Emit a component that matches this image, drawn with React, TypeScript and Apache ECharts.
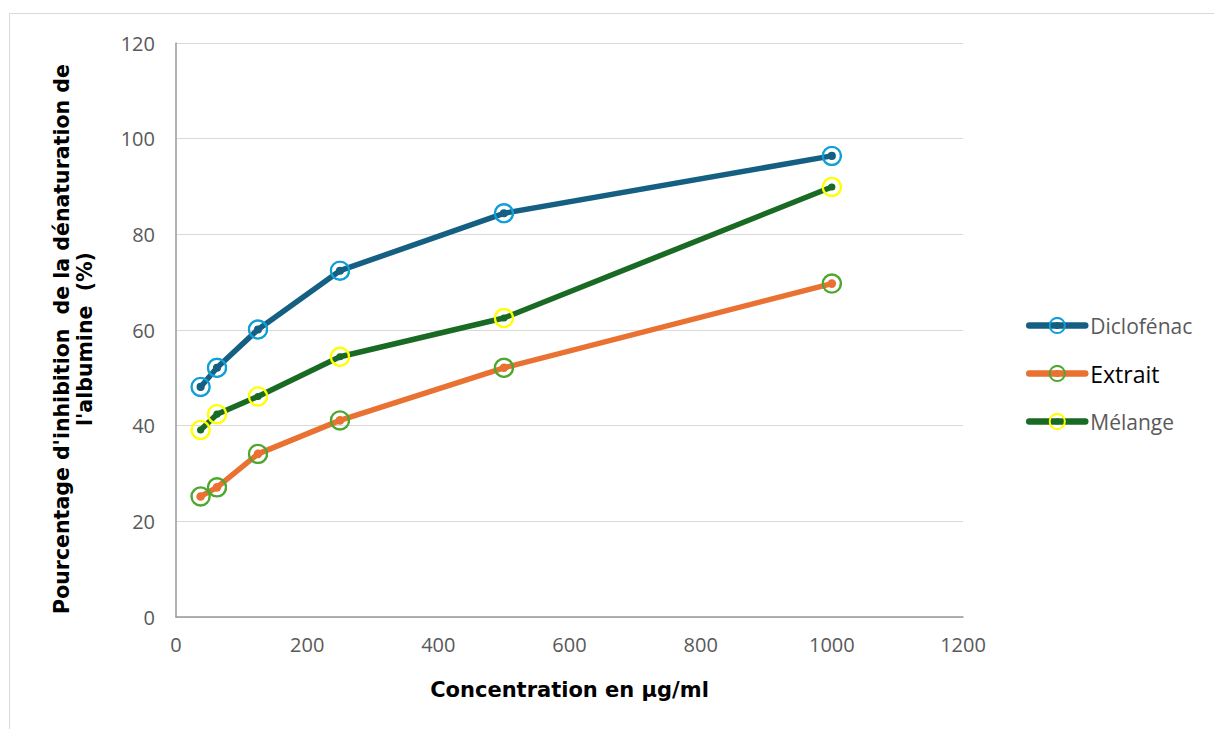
import React, { useEffect, useRef } from "react";
import * as echarts from "echarts";

const concentrations = [37.5, 62.5, 125, 250, 500, 1000];
const diclofenac = [48.1, 52.1, 60.1, 72.4, 84.4, 96.4];
const extrait = [25.2, 27.1, 34.1, 41.1, 52.1, 69.7];
const melange = [39.1, 42.4, 46.1, 54.4, 62.5, 89.9];

const seriesNames = ["Diclofénac", "Extrait", "Mélange"];
const lineColors = ["#156082", "#E97132", "#196B24"];
const ringColors = ["#0F9ED5", "#4EA72E", "#FFFF00"];
const dotRadii = [8.5, 9, 7.5];

const yTitle = "Pourcentage d'inhibition  de la dénaturation de\nl'albumine  (%)";
const xTitle = "Concentration en µg/ml";

function markerUri(ring: string, dot: string, r: number): string {
  const svg = `<svg xmlns="http://www.w3.org/2000/svg" width="44" height="44" viewBox="0 0 44 44"><circle cx="22" cy="22" r="19" fill="none" stroke="${ring}" stroke-width="5"/><circle cx="22" cy="22" r="${r}" fill="${dot}"/></svg>`;
  return "image://data:image/svg+xml;charset=utf-8," + encodeURIComponent(svg);
}

export default function App() {
  const ref = useRef<HTMLDivElement>(null);
  useEffect(() => {
    if (!ref.current) return;
    const chart = echarts.init(ref.current, null, { renderer: "svg" });
    const datasets = [diclofenac, extrait, melange];
    const font = "'Open Sans', 'Liberation Sans', Arial, sans-serif";
    const titleFont = "'DejaVu Sans', 'Liberation Sans', Arial, sans-serif";
    chart.setOption({
      animation: false,
      backgroundColor: "#ffffff",
      graphic: [
        {
          type: "rect",
          shape: { x: 9.5, y: 13.5, width: 1230, height: 740 },
          style: { fill: "none", stroke: "#d9d9d9", lineWidth: 1 },
          silent: true,
        },
      ],
      grid: { left: 176, right: 251, top: 43, bottom: 112, containLabel: false },
      xAxis: {
        type: "value",
        min: 0,
        max: 1200,
        interval: 200,
        name: xTitle,
        nameLocation: "middle",
        nameGap: 62,
        nameTextStyle: { fontFamily: titleFont, fontWeight: "bold", fontSize: 21, color: "#000" },
        axisLine: { show: true, lineStyle: { color: "#999999", width: 1.5 } },
        axisTick: { show: false },
        splitLine: { show: false },
        axisLabel: {
          fontFamily: font,
          fontSize: 20,
          color: "#595959",
          margin: 17,
          formatter: (v: number) => String(v),
        },
      },
      yAxis: {
        type: "value",
        min: 0,
        max: 120,
        interval: 20,
        name: yTitle,
        nameLocation: "middle",
        nameGap: 80,
        nameTextStyle: {
          fontFamily: titleFont,
          fontWeight: "bold",
          fontSize: 20.5,
          color: "#000",
          lineHeight: 23,
          align: "center",
          padding: [0, 18, 0, 0],
        },
        axisLine: { show: true, lineStyle: { color: "#999999", width: 1.5 } },
        axisTick: { show: false },
        splitLine: { show: true, lineStyle: { color: "#d9d9d9", width: 1 } },
        axisLabel: {
          fontFamily: font,
          fontSize: 20,
          color: "#595959",
          margin: 21,
          formatter: (v: number) => String(v),
        },
      },
      legend: {
        orient: "vertical",
        left: 1021,
        top: 310,
        itemWidth: 56,
        itemHeight: 22,
        itemGap: 26,
        data: seriesNames,
        lineStyle: { width: 6.5, cap: "round" },
        formatter: (name: string) => (name === "Extrait" ? `{b|${name}}` : `{a|${name}}`),
        textStyle: {
          fontFamily: font,
          rich: {
            a: { fontFamily: font, fontSize: 21, color: "#595959", lineHeight: 22 },
            b: { fontFamily: font, fontSize: 23, color: "#000000", lineHeight: 22 },
          },
        },
      },
      series: seriesNames.map((name, i) => ({
        name,
        type: "line",
        data: concentrations.map((x, j) => [x, datasets[i][j]]),
        symbol: markerUri(ringColors[i], lineColors[i], dotRadii[i]),
        symbolSize: 21,
        showSymbol: true,
        lineStyle: { color: lineColors[i], width: 5.5, cap: "round", join: "round" },
        itemStyle: { color: lineColors[i] },
        emphasis: { disabled: true },
        z: 3 + i,
      })),
    });
    return () => chart.dispose();
  }, []);
  return (
    <div
      ref={ref}
      style={{ position: "absolute", left: 0, top: 0, width: 1214, height: 729, background: "#fff" }}
    />
  );
}
